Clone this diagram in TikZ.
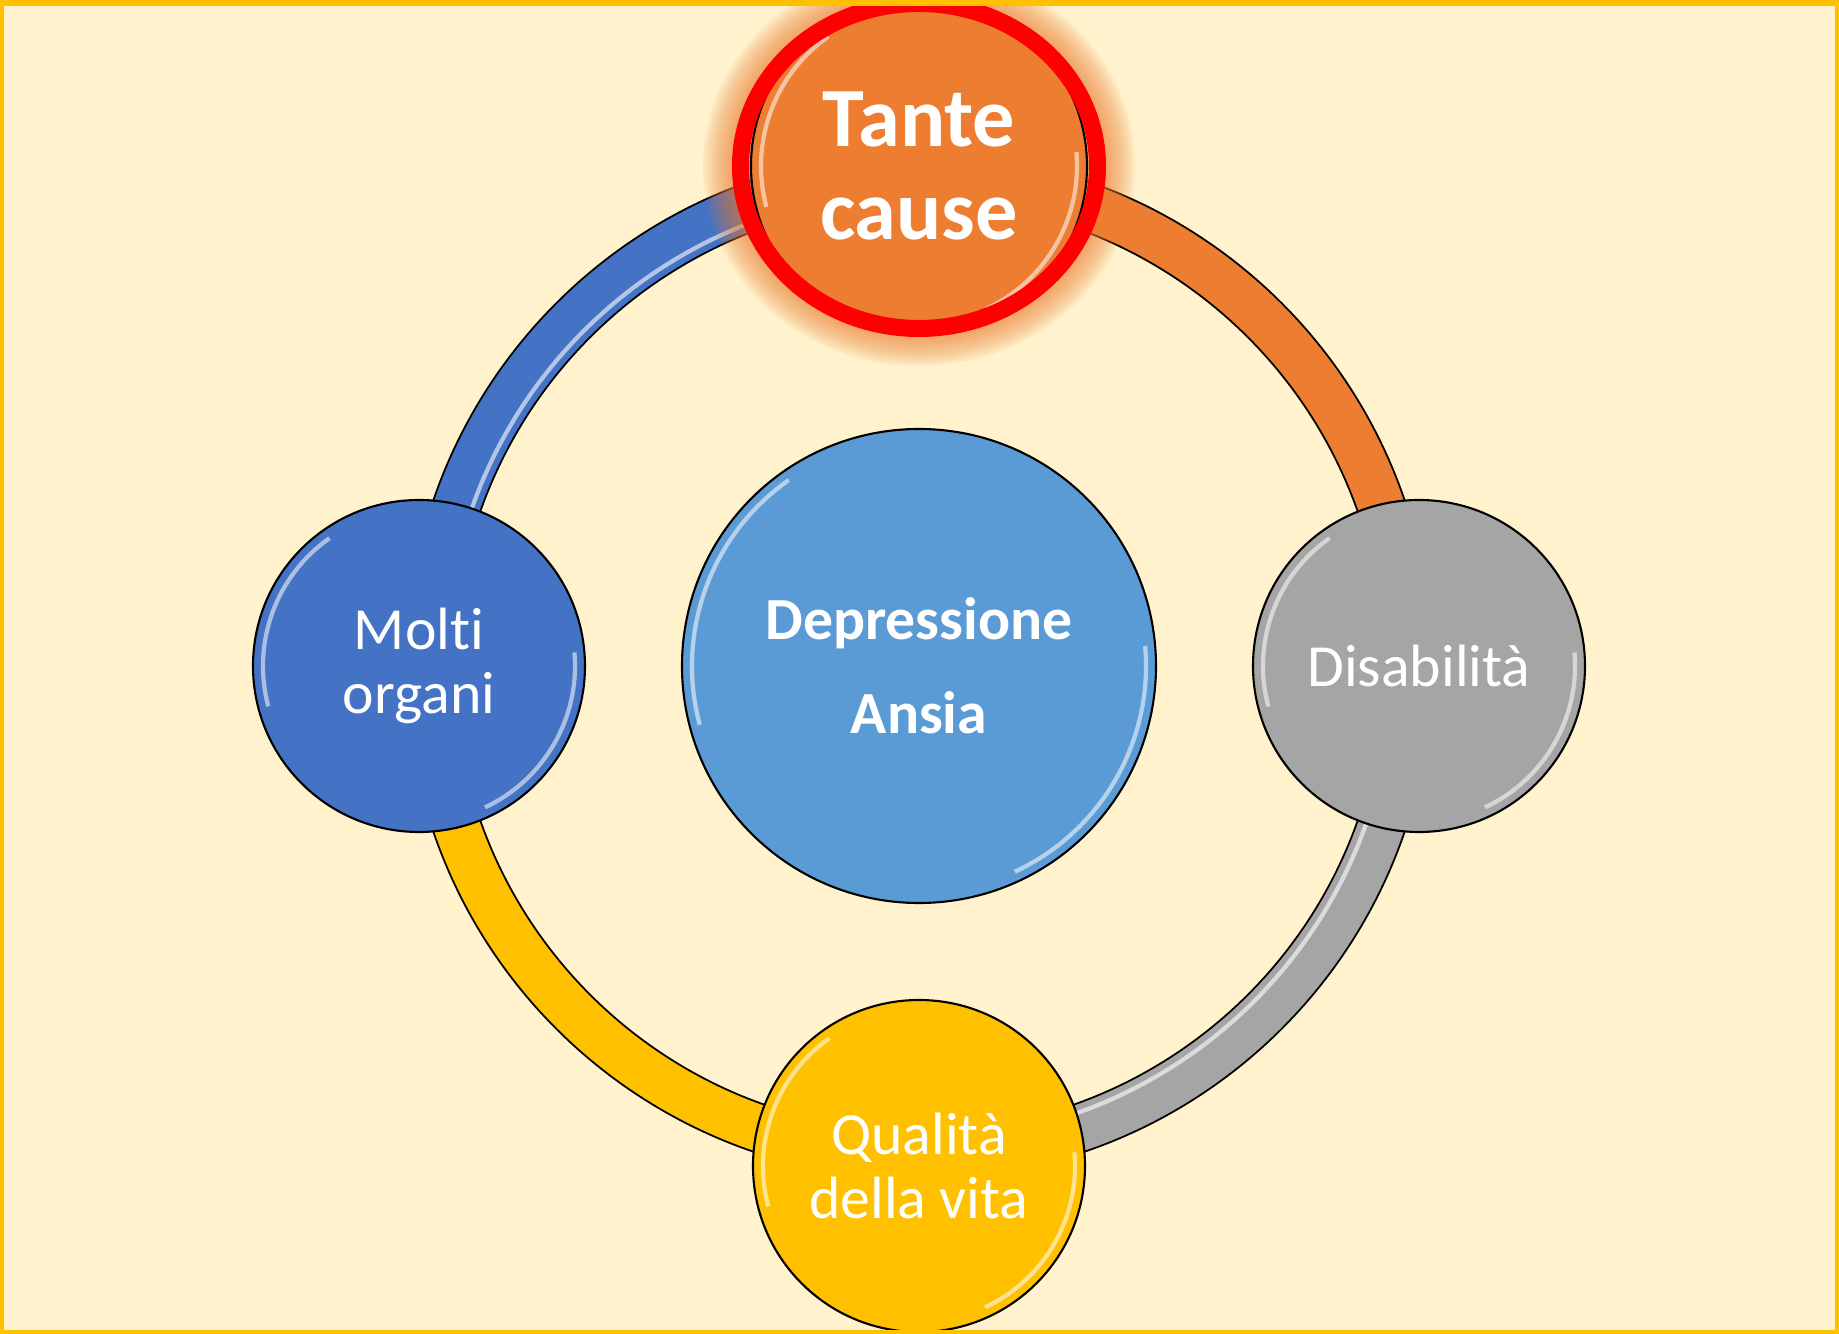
\documentclass[tikz,border=0pt]{standalone}
\usepackage{fontspec}
\setmainfont{Carlito}[Ligatures=NoCommon]
\usepackage{tikz}
\usepackage{tkz-berge}

\definecolor{Sfondo}{HTML}{FFF2CC}
\definecolor{Giallo}{HTML}{FFC000}
\definecolor{Arancio}{HTML}{ED7D31}
\definecolor{Blu}{HTML}{4472C4}
\definecolor{Azzurro}{HTML}{5B9BD5}
\definecolor{Grigio}{HTML}{A5A5A5}
\definecolor{Rosso}{HTML}{FF0000}

\pgfdeclarelayer{bg}
\pgfdeclarelayer{glow}
\pgfsetlayers{bg,glow,main}

\tikzset{
  VertexStyle/.style={circle, draw=black, line width=0.6pt, text=white,
    align=center, inner sep=0pt},
  Piccolo/.style={minimum size=3.32cm, font=\fontsize{17}{18.2}\selectfont},
  Centro/.style={fill=Azzurro, minimum size=4.74cm,
    font=\fontsize{17}{26.7}\selectfont\bfseries},
  Causa/.style={fill=Arancio, minimum size=3.36cm,
    font=\fontsize{24}{26.5}\selectfont\bfseries},
  riflesso/.style={white, opacity=0.55, line width=1.2pt}
}

\begin{document}
\begin{tikzpicture}
    \useasboundingbox (-9.19,-6.68) rectangle (9.20,6.66);
    \SetGraphUnit{5}
    \Vertex[L={Depressione\\Ansia},style={Centro}]{Dep}
    \NO[L={Tante\\cause},style={Causa}](Dep){Cau}
    \WE[L={Molti\\organi},style={Piccolo,fill=Blu}](Dep){Org}
    \EA[L={Disabilità},style={Piccolo,fill=Grigio}](Dep){Dis}
    \SO[L={Qualità\\della vita},style={Piccolo,fill=Giallo}](Dep){Vit}
    % anello
    \begin{pgfonlayer}{bg}
      \fill[Sfondo] (-9.19,-6.68) rectangle (9.20,6.66);
      \foreach \col/\a in {Arancio/0, Blu/90, Giallo/180, Grigio/270}
        \draw[\col, line width=0.48cm] ([shift={(\a:4.89)}]Dep.center)
          arc[start angle=\a, delta angle=90, radius=4.89];
      \foreach \a in {90, 270}
        \draw[white, opacity=0.6, line width=1.2pt] ([shift={(\a:4.74)}]Dep.center)
          arc[start angle=\a, delta angle=90, radius=4.74];
      \draw[black, line width=0.5pt] (Dep.center) circle[radius=4.65]
        (Dep.center) circle[radius=5.13];
    \end{pgfonlayer}
    % alone
    \begin{pgfonlayer}{glow}
      \foreach \k in {1,...,10}
        \fill[Arancio, opacity=0.09] (Cau.center)
          ellipse[x radius=1.86+0.03*\k, y radius=1.70+0.03*\k];
    \end{pgfonlayer}
    \foreach \n/\r in {Dep/2.27, Org/1.56, Dis/1.56, Vit/1.56, Cau/1.58}{
      \draw[riflesso] ([shift={(125:\r)}]\n.center) arc[start angle=125, end angle=195, radius=\r];
      \draw[riflesso] ([shift={(-65:\r)}]\n.center) arc[start angle=-65, end angle=5, radius=\r];
    }
    \draw[Rosso, line width=0.17cm] (Cau.center) ellipse[x radius=1.785, y radius=1.625];
    % cornice
    \draw[Giallo, line width=0.09cm] (-9.19,-6.68) rectangle (9.20,6.66);
    \fill[Giallo] (-9.19,6.60) rectangle (9.20,6.66);
\end{tikzpicture}
\end{document}
